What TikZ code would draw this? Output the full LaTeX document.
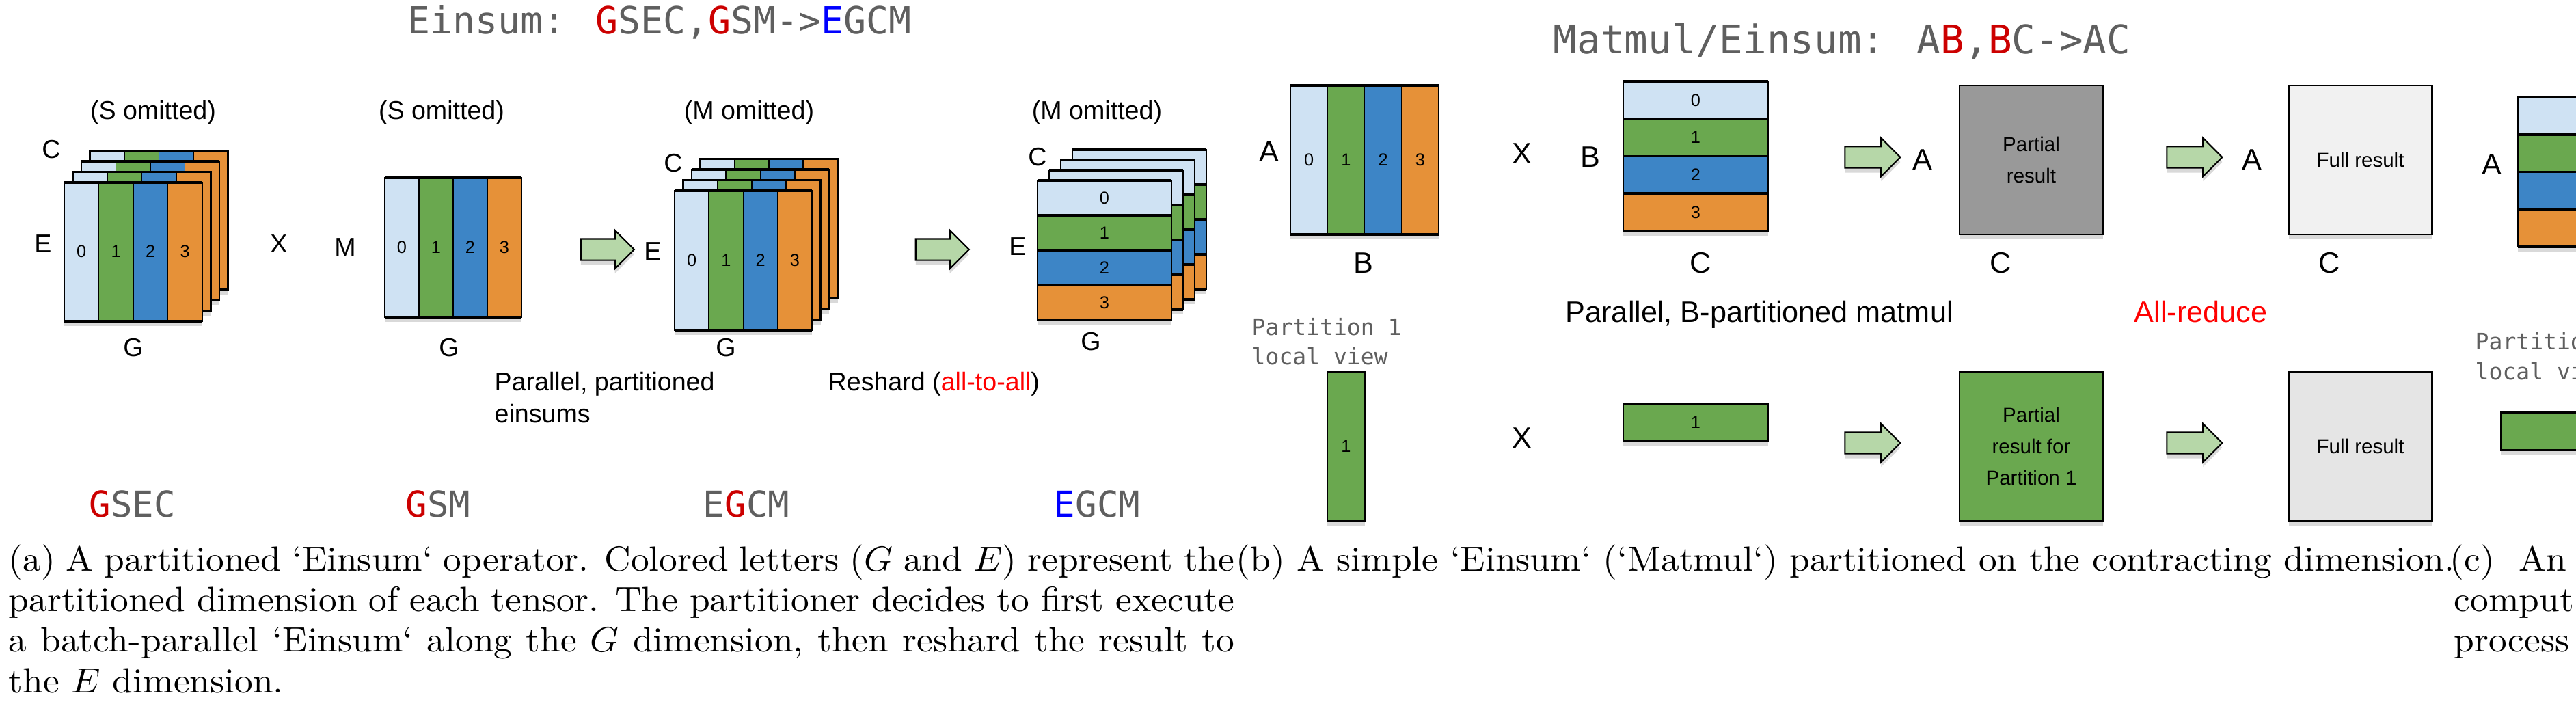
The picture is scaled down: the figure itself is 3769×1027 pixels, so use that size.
\documentclass[tikz,border=0pt]{standalone}
\usepackage{fontspec}
\newfontfamily\sansf{Liberation Sans}
\newfontfamily\monof{DejaVu Sans Mono}
\usetikzlibrary{positioning, shapes.arrows, shadows}

\definecolor{tlblue}{HTML}{CFE2F3}
\definecolor{tgreen}{HTML}{6AA84F}
\definecolor{tblue}{HTML}{3D85C6}
\definecolor{torange}{HTML}{E69138}
\definecolor{agreen}{HTML}{B6D7A8}
\definecolor{pgray}{HTML}{999999}
\definecolor{fgray}{HTML}{F1F1F1}
\definecolor{tgray}{HTML}{5F5F5F}
\definecolor{gred}{HTML}{CC0000}
\definecolor{eblue}{HTML}{0000FF}

% stack of four coloured columns / rows
\newcommand{\vstripes}[4]{%
  \fill[white, drop shadow={shadow xshift=0mm, shadow yshift=-0.7mm, opacity=0.3}] (#1,#2) rectangle ++(#3,#4);
  \foreach \c [count=\i from 0] in {tlblue,tgreen,tblue,torange}
    \fill[\c] ({#1+\i*#3/4},#2) rectangle ++({#3/4},#4);
  \foreach \i in {1,2,3}
    \draw[line width=0.5pt] ({#1+\i*#3/4},#2) -- ++(0,#4);
  \draw[line width=0.6pt] (#1,#2) rectangle ++(#3,#4);
  \draw[line width=1.1pt] (#1,#2) -- ++(#3,0) (#1,{#2+#4}) -- ++(#3,0);}
\newcommand{\hstripes}[4]{%
  \fill[white, drop shadow={shadow xshift=0mm, shadow yshift=-0.7mm, opacity=0.3}] (#1,#2) rectangle ++(#3,#4);
  \foreach \c [count=\i from 0] in {tlblue,tgreen,tblue,torange}
    \fill[\c] (#1,{#2+\i*#4/4}) rectangle ++(#3,{#4/4});
  \foreach \i in {1,2,3}
    \draw[line width=1.1pt] (#1,{#2+\i*#4/4}) -- ++(#3,0);
  \draw[line width=0.6pt] (#1,#2) rectangle ++(#3,#4);
  \draw[line width=1.1pt] (#1,#2) -- ++(#3,0) (#1,{#2+#4}) -- ++(#3,0);}
\newcommand{\capline}[1]{\scalebox{1.52}[1.46]{\fontsize{10}{12}\selectfont #1}}

\begin{document}
\begin{tikzpicture}
[
x=0.1mm, y=-0.1mm,
lab/.style={font=\sansf\fontsize{10.7}{12}\selectfont, inner sep=0},
blab/.style={font=\sansf\fontsize{12.3}{14}\selectfont, inner sep=0},
digit/.style={font=\sansf\fontsize{7.2}{8}\selectfont, inner sep=0},
boxtxt/.style={font=\sansf\fontsize{8.4}{13}\selectfont, align=center},
mtitle/.style={font=\monof\fontsize{15.6}{18}\selectfont, text=tgray, inner sep=0},
mlab/.style={font=\monof\fontsize{14.9}{17}\selectfont, text=tgray, inner sep=0},
mview/.style={font=\monof\fontsize{9.4}{11}\selectfont, text=tgray, inner sep=0, anchor=base west},
captxt/.style={inner sep=0, anchor=base west},
garrow/.style={single arrow, draw=black, fill=agreen, line width=0.6pt, minimum height=7.8mm, inner xsep=0, inner ysep=1.45mm, single arrow head extend=1.25mm, drop shadow={shadow xshift=0mm, shadow yshift=-0.7mm, opacity=0.3}},
box/.style={rectangle, draw=black, line width=0.6pt, minimum width=21mm, minimum height=21.8mm, inner sep=0, drop shadow={shadow xshift=0mm, shadow yshift=-0.7mm, opacity=0.3}},
]
\useasboundingbox (0,0) rectangle (3769,1027);
\clip (0,0) rectangle (3769,1027);

%% (a) partitioned einsum
\node[mtitle] (titlea) at (965,33) {Einsum: {\color{gred}G}SEC,{\color{gred}G}SM->{\color{eblue}E}GCM};

\foreach \k in {3,2,1} {\vstripes{94+12.5*\k}{267-15.5*\k}{202}{203}}
\vstripes{94}{267}{202}{203}
\foreach \d in {0,...,3} \node[digit] (ga\d) at ({94+(\d+0.5)*50.5},368) {\d};
\node[lab] (omita) at (224,165) {(S omitted)};
\node[lab] (ca) at (75,219) {C};
\node[lab] (ea) at (63,357) {E};
\node[lab] (gga) at (195,509) {G};
\node[lab] (times1) at (408,357) {X};

\vstripes{563}{260}{200}{204}
\foreach \d in {0,...,3} \node[digit] (gb\d) at ({563+(\d+0.5)*50},362) {\d};
\node[lab] (omitb) at (646,165) {(S omitted)};
\node[lab] (mb) at (505,362) {M};
\node[lab] (ggb) at (657,509) {G};

\node[garrow] (arr1) at (881,365) {};

\foreach \k in {3,2,1} {\vstripes{987+12.5*\k}{279-15.5*\k}{201}{204}}
\vstripes{987}{279}{201}{204}
\foreach \d in {0,...,3} \node[digit] (gc\d) at ({987+(\d+0.5)*50.25},381) {\d};
\node[lab] (omitc) at (1096,165) {(M omitted)};
\node[lab] (cc) at (985,239) {C};
\node[lab] (ec) at (955,368) {E};
\node[lab] (ggc) at (1062,509) {G};

\node[garrow] (arr2) at (1371,365) {};

\foreach \k in {3,2,1} {\hstripes{1518+17*\k}{264-15*\k}{196}{204}}
\hstripes{1518}{264}{196}{204}
\foreach \d in {0,...,3} \node[digit] (gd\d) at (1616,{264+(\d+0.5)*51}) {\d};
\node[lab] (omitd) at (1605,165) {(M omitted)};
\node[lab] (cd) at (1518,230) {C};
\node[lab] (ed) at (1489,361) {E};
\node[lab] (ggd) at (1596,500) {G};

\node[lab, anchor=base west] (par1) at (723,571) {Parallel, partitioned};
\node[lab, anchor=base west] (par2) at (723,618) {einsums};
\node[lab, anchor=base west] (reshard) at (1211,571) {Reshard ({\color{red}all-to-all})};

\node[mlab] (sa) at (194,737) {{\color{gred}G}SEC};
\node[mlab] (sb) at (641,737) {{\color{gred}G}SM};
\node[mlab] (sc) at (1092,737) {E{\color{gred}G}CM};
\node[mlab] (sd) at (1605,737) {{\color{eblue}E}GCM};

%% (b) matmul
\node[mtitle, font=\monof\fontsize{16.4}{18}\selectfont] (titleb) at (2695,60) {Matmul/Einsum: A{\color{gred}B},{\color{gred}B}C->AC};

\vstripes{1888}{125}{217}{218}
\foreach \d in {0,...,3} \node[digit] (ma\d) at ({1888+(\d+0.5)*54.25},234) {\d};
\node[blab] (la) at (1857,222) {A};
\node[blab] (lb) at (1995,385) {B};
\node[blab] (times2) at (2227,225) {X};

\hstripes{2375}{119}{212}{219}
\foreach \d in {0,...,3} \node[digit] (mb\d) at (2481,{119+(\d+0.5)*54.75}) {\d};
\node[blab] (lbb) at (2327,230) {B};
\node[blab] (lbc) at (2488,385) {C};

\node[garrow, minimum height=8.1mm] (arr3) at (2732,230) {};
\node[blab] (lpa) at (2813,234) {A};
\node[box, fill=pgray] (partial) at (2972,234) {};
\node[boxtxt] at (partial) {Partial\\result};
\node[blab] (lpc) at (2927,385) {C};

\node[garrow, minimum height=8.1mm] (arr4) at (3203,230) {};
\node[blab] (lfa) at (3295,234) {A};
\node[box, fill=fgray] (full) at (3453.5,234) {};
\node[boxtxt] at (full) {Full result};
\node[blab] (lfc) at (3408,385) {C};

\hstripes{3684}{142}{217}{219}
\node[blab] (lra) at (3646,241) {A};

\node[blab, anchor=base west] (parb) at (2290,471) {Parallel, B-partitioned matmul};
\node[blab, anchor=base west, text=red] (allred) at (3122,471) {All-reduce};

\node[mview] (view1) at (1831,490) {Partition 1};
\node[mview] (view2) at (1831,533) {local view};
\node[box, fill=tgreen, minimum width=5.5mm] (strip) at (1969.5,653) {};
\node[digit] at (strip) {1};
\node[blab] (times3) at (2227,641) {X};
\node[box, fill=tgreen, minimum height=5.4mm, minimum width=21.2mm] (bar) at (2481,618) {};
\node[digit] at (bar) {1};
\node[garrow, minimum height=8.1mm] (arr5) at (2732,648) {};
\node[box, fill=tgreen] (partone) at (2972,653) {};
\node[boxtxt] at (partone) {Partial\\result for\\Partition 1};
\node[garrow, minimum height=8.1mm] (arr6) at (3203,648) {};
\node[box, fill=fgray!95!black] (fulltwo) at (3453.5,653) {};
\node[boxtxt] at (fulltwo) {Full result};

\node[mview] (view3) at (3621,511) {Partition 1};
\node[mview] (view4) at (3621,555) {local view};
\node[box, fill=tgreen, minimum height=5.5mm] (barc) at (3764,631) {};

%% captions
\node[captxt] (capa1) at (12,835) {\capline{\makebox[11.8cm][s]{(a) A partitioned `Einsum` operator. Colored letters ($G$ and $E$) represent the}}};
\node[captxt] (capa2) at (12,894) {\capline{\makebox[11.8cm][s]{partitioned dimension of each tensor. The partitioner decides to first execute}}};
\node[captxt] (capa3) at (12,953) {\capline{\makebox[11.8cm][s]{a batch-parallel `Einsum` along the $G$ dimension, then reshard the result to}}};
\node[captxt] (capa4) at (12,1013) {\capline{the $E$ dimension.}};
\node[captxt] (capb) at (1808,835) {\capline{(b) A simple `Einsum` (`Matmul`) partitioned on the contracting dimension.}};
\node[captxt] (capc1) at (3584,835) {\capline{(c)\ \ An}};
\node[captxt] (capc2) at (3590,894) {\capline{comput}};
\node[captxt] (capc3) at (3590,953) {\capline{process}};
\end{tikzpicture}
\end{document}
